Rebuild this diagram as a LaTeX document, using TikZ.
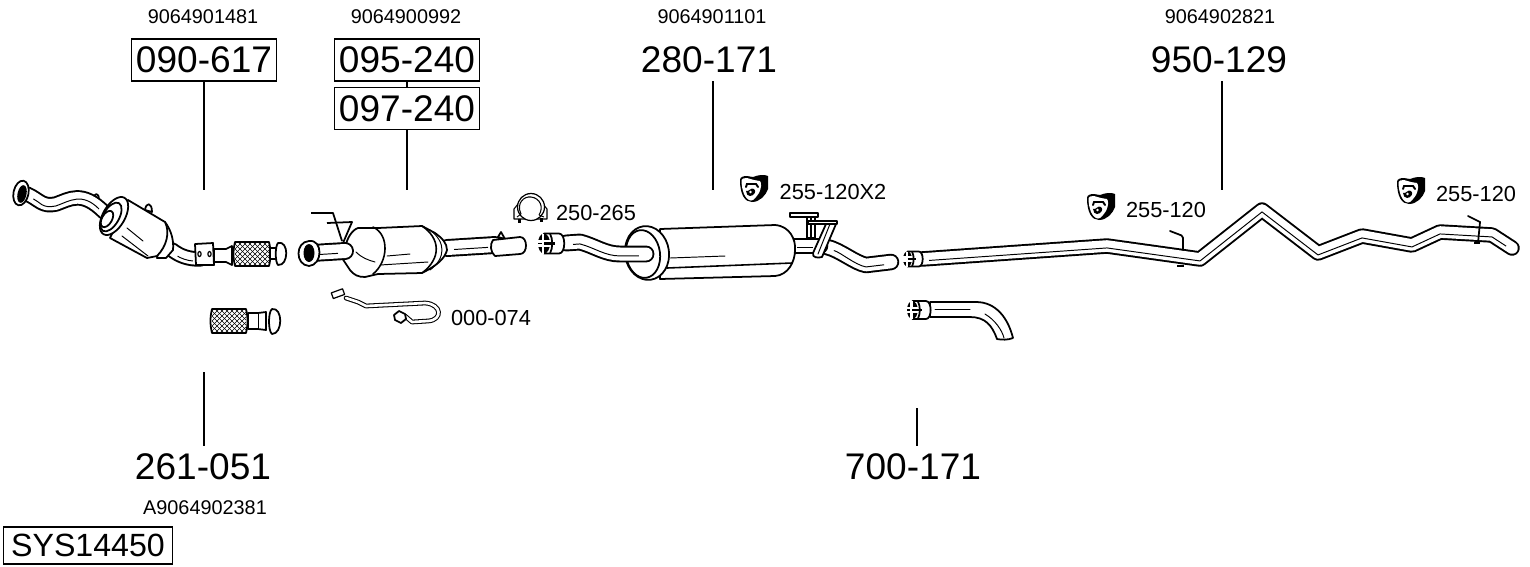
\documentclass[tikz,border=0pt]{standalone}
\usepackage{fontspec}
\setmainfont{Liberation Sans}

\newcommand{\exhpipe}[2][]{\draw[pipe, #1] #2; \draw[pipemid] #2;}

\tikzset{
  bignum/.style={font=\fontsize{21.1}{21}\selectfont, inner sep=0pt, minimum height=0.84cm},
  numbox/.style={bignum, draw, line width=0.8pt, minimum width=2.9cm},
  sysbox/.style={font=\fontsize{18.3}{18}\selectfont, draw, line width=0.8pt, inner sep=0pt, minimum width=3.38cm, minimum height=0.74cm},
  oenum/.style={font=\fontsize{11.3}{12}\selectfont, inner sep=0pt},
  reflabel/.style={font=\fontsize{12.4}{13}\selectfont, inner sep=0pt},
  leader/.style={line width=0.8pt},
  part/.style={draw=black, fill=white, line width=1pt, line join=round},
  thinpart/.style={draw=black, line width=0.55pt, line cap=round},
  pipe/.style={draw=black, double=white, double distance=6.6pt, line width=1.1pt, line join=round, line cap=round},
  pipemid/.style={draw=black, line width=0.55pt, yshift=-1.1pt, shorten <=4pt, shorten >=4pt},
  hangericon/.pic={
    \fill (0,5) .. controls (0,2) and (3,1) .. (7,1) -- (13,2) .. controls (18,0) and (24,-1) .. (28,1)
      -- (28,14) .. controls (26,20) and (20,27) .. (12,27) .. controls (5,27) and (0,20) .. (0,5) -- cycle;
    \fill[white] (1.5,5) .. controls (2,3.5) and (4,3) .. (7,3) -- (14,5) -- (20,6) .. controls (22,8) and (21,14) .. (19,18) .. controls (16,22) and (14,25.5) .. (11,25.5)
      .. controls (5,25) and (1.5,15) .. (1.5,5) -- cycle;
    \draw[line width=1.1pt, line cap=round] (6,12) -- (7,9) -- (16,9) -- (18,12);
    \fill (6,16) .. controls (9,17) and (11,12) .. (14,14) .. controls (17,16) and (14,21) .. (10,21) .. controls (8,21) and (6,19) .. (6,16) -- cycle;
    \fill[white] (10.5,17) circle (1.3);
  },
  clampicon/.pic={
    \draw[part, line width=0.6pt] (4,11) -- (0,16) -- (0,26) -- (33,26) -- (33,16) -- (29,11) -- cycle;
    \draw[part, line width=0.7pt] (17,14) circle (13.5);
    \draw[line width=0.6pt] (7,21) .. controls (2,10) and (10,3) .. (17,4) .. controls (26,5) and (30,14) .. (25,22);
    \draw[line width=0.5pt] (7,21) -- (3,24) (25,22) -- (30,24);
    \fill (4,26) rectangle (7,30);
    \fill (26,25) rectangle (29,29);
  },
  slotend/.pic={
    \draw[part] (6,-10) -- (21,-10) .. controls (28,-10) and (28,10) .. (21,10) -- (6,10) -- cycle;
    \draw[line width=1pt] (12,-10) .. controls (15,-4) and (15,4) .. (12,10);
    \fill[black] (6,0) ellipse (6 and 10);
    \draw[white, line width=1.4pt] (0,-2.2) -- (12,-2.2) (0,2.2) -- (12,2.2) (5,-10) -- (5,10);
    \draw[line width=1.6pt] (6,0) -- (17,0);
  },
  flexmesh/.pic={
    \draw[part] (2,0) .. controls (0,8) and (0,16) .. (2,24) -- (36,24) .. controls (38,16) and (38,8) .. (36,0) -- cycle;
    \begin{scope}
    \clip (2,1) rectangle (36,23);
    \foreach \m in {-25,-20,...,40} {
      \draw[line width=0.35pt] (\m,0) -- (\m+24,24);
      \draw[line width=0.35pt] (\m+24,0) -- (\m,24);
    }
    \end{scope}
  }
}

\begin{document}
\begin{tikzpicture}[x=0.02cm, y=-0.02cm]
\useasboundingbox (0,0) rectangle (1530,566);

% labels
\node[oenum] (oe1481) at (203,17) {9064901481};
\node[oenum] (oe0992) at (406,17) {9064900992};
\node[oenum] (oe1101) at (712,17) {9064901101};
\node[oenum] (oe2821) at (1220,17) {9064902821};
\node[oenum] (oe2381) at (205,508) {A9064902381};

\node[numbox] (b090617) at (204,60) {090-617};
\node[numbox] (b095240) at (407,60) {095-240};
\node[numbox] (b097240) at (407,108.5) {097-240};
\node[bignum] (n280171) at (709,60) {280-171};
\node[bignum] (n950129) at (1219,60) {950-129};
\node[bignum] (n261051) at (203,467) {261-051};
\node[bignum] (n700171) at (913,467) {700-171};
\node[sysbox] (sys) at (88,545.5) {SYS14450};

\node[reflabel] (r250265) at (596,213) {250-265};
\node[reflabel] (r255a) at (833,192) {255-120X2};
\node[reflabel] (r255b) at (1166,210) {255-120};
\node[reflabel] (r255c) at (1476,194) {255-120};
\node[reflabel] (r000074) at (491,318) {000-074};

\coordinate (e090617) at (204,190);
\coordinate (e097240) at (407,190);
\coordinate (e280171) at (713,190);
\coordinate (e950129) at (1222,190);
\coordinate (e261051) at (204,372);
\coordinate (e700171) at (917,408);

\begin{scope}[leader]
\draw (b090617) -- (e090617);
\draw (b095240) -- (b097240);
\draw (b097240) -- (e097240);
\draw (n280171.south -| e280171) -- (e280171);
\draw (n950129.south -| e950129) -- (e950129);
\draw (e261051) -- (n261051.north -| e261051);
\draw (e700171) -- (n700171.north -| e700171);
\end{scope}

% front pipe with catalyst
\draw[part] (93,200) .. controls (94,192) and (99,192) .. (99,200) -- cycle;
\draw[part] (145,210) .. controls (146,202) and (152,202) .. (152,212) -- cycle;
\exhpipe{(27,194) .. controls (40,200) and (42,207) .. (56,204) .. controls (70,199) and (82,190) .. (104,212)}
\draw[part, rotate around={-12:(21,193)}] (21,193) ellipse (7.5 and 12.5);
\fill[rotate around={-12:(22,194)}] (22,194) ellipse (4.5 and 9);
\exhpipe{(172,250) .. controls (180,256) and (188,259) .. (200,259)}
\draw[part] (165,222) .. controls (171,230) and (174,240) .. (173,250) -- (166,258) -- (157,258) -- cycle;
\draw[part] (128,200) -- (165,222) .. controls (170,232) and (167,246) .. (157,256) -- (147,258) -- (110,238) -- cycle;
\draw[thinpart] (127,228) -- (143,241);
\draw[thinpart] (122,236) -- (148,256);
\draw[part, rotate around={-30:(114,216)}] (114,216) ellipse (11 and 21);
\draw[part, rotate around={-30:(111,217)}] (111,217) ellipse (8 and 16);
\draw[part, rotate around={-30:(107,219)}] (107,219) ellipse (5 and 9);
\draw[part] (214,249) -- (226,249) -- (232,246) -- (232,265) -- (226,262) -- (214,262) -- cycle;
\draw[part] (195,244) -- (213,243) -- (214,265) -- (196,265) -- cycle;
\draw[line width=0.7pt] (199.5,254) ellipse (1.6 and 2.5) (209.5,254) ellipse (1.6 and 2.5);
\pic at (233,242) {flexmesh};
\draw[part] (270,248) -- (277,248) -- (277,259) -- (270,259) -- cycle;
\draw[part] (278,243) .. controls (289,240) and (289,266) .. (278,265) .. controls (275,262) and (275,246) .. (278,243) -- cycle;

% spare flex piece
\pic at (210,309) {flexmesh};
\draw[part] (248,313) -- (258,313) -- (266,312) -- (266,330) -- (258,329) -- (248,329) -- cycle;
\draw[thinpart] (258,313) -- (258,329);
\draw[part] (272,309) .. controls (283,307) and (283,334) .. (272,334) .. controls (268,331) and (268,312) .. (272,309) -- cycle;

% particulate filter
\exhpipe[double distance=8pt]{(447,248) -- (495,245)}
\draw[part] (498,237) -- (501,232) -- (505,239) -- cycle;
\draw[part] (493,240) -- (520,237) .. controls (528,237) and (528,254) .. (520,254) -- (495,256) .. controls (490,252) and (490,244) .. (493,240) -- cycle;
\draw[part] (358,228) -- (378,228) -- (422,226) -- (435,233) .. controls (442,238) and (447,243) .. (447,250) .. controls (445,258) and (438,265) .. (422,273) -- (378,274) -- (365,277) .. controls (358,277) and (354,275) .. (350,270) -- (342,258) -- (345,248) .. controls (347,238) and (352,230) .. (358,228) -- cycle;
\draw[thinpart, line width=0.9pt] (373,227) .. controls (390,235) and (388,262) .. (373,274);
\draw[thinpart, line width=0.9pt] (422,226) .. controls (440,238) and (442,258) .. (422,273);
\draw[thinpart] (430,230) .. controls (446,242) and (446,258) .. (430,270);
\draw[thinpart] (356,252) .. controls (362,258) and (368,260) .. (375,262);
\draw[thinpart] (387,256) -- (410,254);
\draw[thinpart] (380,265) -- (428,262);
\exhpipe[double distance=8pt]{(312,253) -- (345,251)}
\draw[part] (309,241) .. controls (323,239) and (323,265) .. (309,266) .. controls (295,265) and (295,242) .. (309,241) -- cycle;
\fill (309,253) ellipse (5.5 and 9);
\draw[line width=1pt, line join=round] (311,213) -- (333,213) -- (342,241);
\draw[line width=1pt, line join=round] (327,223) -- (352,222) -- (343,243);

% lambda sensor
\draw[pipe, double distance=1.5pt, line width=0.6pt] (346,298) -- (358,302) -- (366,306) -- (425,303) .. controls (442,304) and (443,320) .. (428,321) -- (412,322) -- (405,316);
\draw[part, line width=0.7pt, rotate around={20:(337,294)}] (332,291) rectangle (344,297);
\draw[part] (394,315) -- (399,311) -- (405,314) -- (406,319) -- (401,323) -- (395,320) -- cycle;

\pic at (514,193) {clampicon};
\pic at (740,175) {hangericon};
\pic at (1087,193) {hangericon};
\pic at (1397,177) {hangericon};

% muffler with tail pipes
\exhpipe[double distance=7.2pt]{(827,247) .. controls (840,250) and (855,263) .. (866,265) -- (891,262)}
\exhpipe[double distance=7.2pt]{(790,246) -- (820,246)}
\draw[part] (660,229) -- (775,225) .. controls (790,226) and (796,240) .. (795,250) .. controls (795,262) and (788,275) .. (775,276) -- (660,279) -- cycle;
\draw[thinpart] (670,258) -- (725,256);
\draw[thinpart, line width=0.9pt] (667,268) -- (792,263);
\draw[part, rotate around={8:(647,253)}] (647,253) ellipse (22 and 27);
\draw[line width=1pt, rotate around={8:(643,254)}] (643,254) ellipse (17 and 24);
\exhpipe[double distance=7.4pt]{(566,243) -- (580,242) .. controls (595,246) and (605,254) .. (620,254) -- (646,254)}
\draw[part] (790,213) rectangle (818,217);
\draw[part] (807,217) rectangle (815,238);
\draw[line width=0.8pt] (811,217) -- (811,238);
\draw[part] (808,221) rectangle (837,224);
\draw[part] (826,224) -- (813,253) .. controls (812,258) and (818,258) .. (822,257) -- (836,224) -- cycle;
\draw[thinpart] (830,224) -- (818,254);
\pic at (538,243.5) {slotend};

% rear pipe
\exhpipe{(922,259) -- (1107,246) -- (1200,259) -- (1262,210) -- (1318,253) -- (1362,236) -- (1412,245) -- (1440,232) -- (1492,235) -- (1512,248)}
\draw[line width=1pt, line cap=round, rounded corners=1pt] (1170,231) -- (1183,236) -- (1183,250);
\draw[line width=0.8pt] (1177,266) -- (1184,266);
\draw[line width=1pt, line cap=round] (1468,216) -- (1480,222) -- (1478,243);
\draw[line width=0.8pt] (1474,243) -- (1480,243);
\pic[scale=0.75] at (903,259) {slotend};

% extra bent pipe
\draw[part] (930,302) -- (976,302) .. controls (996,302) and (1008,318) .. (1013,338) .. controls (1008,340) and (1002,340) .. (997,339) .. controls (992,325) and (985,317) .. (970,317) -- (930,317) -- cycle;
\draw[thinpart] (935,309) -- (970,309);
\draw[thinpart] (985,314) .. controls (995,320) and (1002,330) .. (1004,338);
\pic[scale=0.9] at (907,310) {slotend};

\end{tikzpicture}
\end{document}
